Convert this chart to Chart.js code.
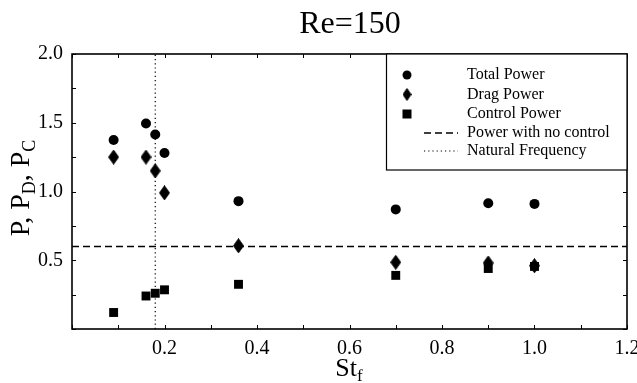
<!DOCTYPE html>
<html>
<head>
<meta charset="utf-8">
<script src="https://cdn.jsdelivr.net/npm/chart.js@4"></script>
<style>
  html, body { margin: 0; padding: 0; background: #fff; }
  #wrap { width: 637px; height: 383px; }
</style>
</head>
<body>
<div id="wrap"><canvas id="chart" width="637" height="383"></canvas></div>
<script>
// forcing frequency St_f
const stF = [0.09, 0.16, 0.18, 0.20, 0.36, 0.70, 0.90, 1.00];
const totalPower = [1.375, 1.495, 1.415, 1.28, 0.93, 0.87, 0.915, 0.91];
const dragPower = [1.25, 1.25, 1.15, 0.99, 0.605, 0.485, 0.48, 0.46];
const controlPower = [0.12, 0.24, 0.26, 0.285, 0.325, 0.39, 0.44, 0.455];
const noControlPower = 0.6;
const naturalFreq = 0.18;
const xRange = [0, 1.2];
const yRange = [0, 2.0];

const SERIF = '"Liberation Serif", "DejaVu Serif", serif';

function pts(xs, ys) {
    return xs.map((x, i) => ({ x: x, y: ys[i] }));
}

// tall narrow diamond marker (filled + stroked so it stays solid)
function makeDiamond(w, h) {
    const c = document.createElement('canvas');
    c.width = w; c.height = h;
    const g = c.getContext('2d');
    g.fillStyle = '#000';
    g.strokeStyle = '#000';
    g.lineWidth = 1;
    g.lineJoin = 'round';
    g.beginPath();
    g.moveTo(w / 2, 0.5);
    g.lineTo(w - 0.5, h / 2);
    g.lineTo(w / 2, h - 0.5);
    g.lineTo(0.5, h / 2);
    g.closePath();
    g.fill();
    g.stroke();
    return c;
}
const diamond = makeDiamond(11, 15);
const diamondSmall = makeDiamond(9, 13);

// draw text with subscripts, parts = [[text, isSub], ...]
function drawRich(ctx, parts, x, y, size, subSize, drop) {
    const widths = parts.map(p => {
        ctx.font = (p[1] ? subSize : size) + 'px ' + SERIF;
        return ctx.measureText(p[0]).width;
    });
    const total = widths.reduce((a, b) => a + b, 0);
    let cx = x - total / 2;
    ctx.textAlign = 'left';
    ctx.textBaseline = 'alphabetic';
    parts.forEach((p, i) => {
        ctx.font = (p[1] ? subSize : size) + 'px ' + SERIF;
        ctx.fillText(p[0], cx, p[1] ? y + drop : y);
        cx += widths[i];
    });
}

const framePlugin = {
    id: 'frame',
    afterDraw(chart) {
        const ctx = chart.ctx;
        const a = chart.chartArea;
        const xs = chart.scales.x, ys = chart.scales.y;
        ctx.save();
        ctx.strokeStyle = '#000';
        ctx.fillStyle = '#000';

        // inward ticks on all four sides
        ctx.lineWidth = 1;
        ctx.beginPath();
        xs.ticks.forEach(t => {
            const px = Math.round(xs.getPixelForValue(t.value)) + 0.5;
            ctx.moveTo(px, a.bottom); ctx.lineTo(px, a.bottom - 4);
            ctx.moveTo(px, a.top); ctx.lineTo(px, a.top + 4);
        });
        ys.ticks.forEach(t => {
            const py = Math.round(ys.getPixelForValue(t.value)) + 0.5;
            ctx.moveTo(a.left, py); ctx.lineTo(a.left + 4, py);
            ctx.moveTo(a.right, py); ctx.lineTo(a.right - 4, py);
        });
        ctx.stroke();

        // plot frame
        ctx.lineWidth = 1.6;
        ctx.strokeRect(a.left, a.top, a.right - a.left, a.bottom - a.top);

        // title
        ctx.font = '32px ' + SERIF;
        ctx.textAlign = 'center';
        ctx.textBaseline = 'alphabetic';
        ctx.fillText('Re=150', 350, 33);

        // x axis title
        drawRich(ctx, [['St', false], ['f', true]], 349, 376, 26, 17, 5);

        // y axis title
        ctx.save();
        ctx.translate(29, 188);
        ctx.rotate(-Math.PI / 2);
        drawRich(ctx, [['P, P', false], ['D', true], [', P', false], ['C', true]], 0, 0, 28, 18, 6);
        ctx.restore();

        // legend box
        const lx = 386, ly = a.top, lw = a.right - 386, lh = 116;
        ctx.fillStyle = '#fff';
        ctx.fillRect(lx, ly, lw, lh);
        ctx.lineWidth = 1.2;
        ctx.strokeRect(lx + 0.5, ly, lw - 0.5, lh);
        ctx.fillStyle = '#000';

        const ds = chart.data.datasets;
        const rowY = [75, 94.5, 114, 133, 151];
        const symX = 407, textX = 467;
        ctx.font = '16px ' + SERIF;
        ctx.textAlign = 'left';
        ctx.textBaseline = 'middle';
        ds.forEach((d, i) => {
            const y = rowY[i];
            ctx.fillText(d.label, textX, y);
            if (d.pointStyle === 'circle') {
                ctx.beginPath(); ctx.arc(symX, y, 4.5, 0, Math.PI * 2); ctx.fill();
            } else if (d.pointStyle === 'rect') {
                ctx.fillRect(symX - 4.5, y - 4.5, 9, 9);
            } else if (d.pointStyle === diamond) {
                ctx.drawImage(diamondSmall, symX - 4.5, y - 6.5);
            } else {
                ctx.save();
                ctx.lineWidth = d.borderWidth;
                ctx.setLineDash(d.borderDash);
                ctx.beginPath(); ctx.moveTo(424, y); ctx.lineTo(458, y); ctx.stroke();
                ctx.restore();
            }
        });
        ctx.restore();
    }
};

new Chart(document.getElementById('chart'), {
    type: 'scatter',
    data: {
        datasets: [
            {
                label: 'Total Power',
                data: pts(stF, totalPower),
                pointStyle: 'circle',
                pointRadius: 5,
                backgroundColor: '#000',
                borderWidth: 0
            },
            {
                label: 'Drag Power',
                data: pts(stF, dragPower),
                pointStyle: diamond,
                backgroundColor: '#000',
                borderWidth: 0
            },
            {
                label: 'Control Power',
                data: pts(stF, controlPower),
                pointStyle: 'rect',
                pointRadius: 6.3,
                backgroundColor: '#000',
                borderWidth: 0
            },
            {
                label: 'Power with no control',
                type: 'line',
                data: [{ x: xRange[0], y: noControlPower }, { x: xRange[1], y: noControlPower }],
                borderColor: '#000',
                borderWidth: 1.3,
                borderDash: [7, 4],
                pointRadius: 0,
                fill: false
            },
            {
                label: 'Natural Frequency',
                type: 'line',
                data: [{ x: naturalFreq, y: yRange[0] }, { x: naturalFreq, y: yRange[1] }],
                borderColor: '#000',
                borderWidth: 1.2,
                borderDash: [1.2, 3],
                pointRadius: 0,
                fill: false
            }
        ]
    },
    options: {
        responsive: false,
        animation: false,
        layout: { padding: { left: 0, right: 10, top: 54, bottom: 0 } },
        plugins: {
            legend: { display: false },
            tooltip: { enabled: false },
            title: { display: false }
        },
        scales: {
            x: {
                type: 'linear',
                min: xRange[0],
                max: xRange[1],
                grid: { display: false, drawTicks: false },
                border: { display: false },
                afterFit(scale) {
                    scale.height = 54;
                    scale.paddingLeft = 0;
                    scale.paddingRight = 0;
                },
                ticks: {
                    stepSize: 0.1,
                    autoSkip: false,
                    maxRotation: 0,
                    padding: 8,
                    color: '#000',
                    font: { family: SERIF, size: 20 },
                    callback(v) {
                        const k = Math.round(v * 10);
                        return k > 0 && k % 2 === 0 ? (k / 10).toFixed(1) : '';
                    }
                }
            },
            y: {
                min: yRange[0],
                max: yRange[1],
                grid: { display: false, drawTicks: false },
                border: { display: false },
                afterFit(scale) {
                    scale.width = 72;
                    scale.paddingTop = 0;
                    scale.paddingBottom = 0;
                },
                ticks: {
                    stepSize: 0.25,
                    autoSkip: false,
                    padding: 9,
                    color: '#000',
                    font: { family: SERIF, size: 20 },
                    callback(v) {
                        const k = Math.round(v * 4);
                        return k > 0 && k % 2 === 0 ? (k / 4).toFixed(1) : '';
                    }
                }
            }
        }
    },
    plugins: [framePlugin]
});
</script>
</body>
</html>
